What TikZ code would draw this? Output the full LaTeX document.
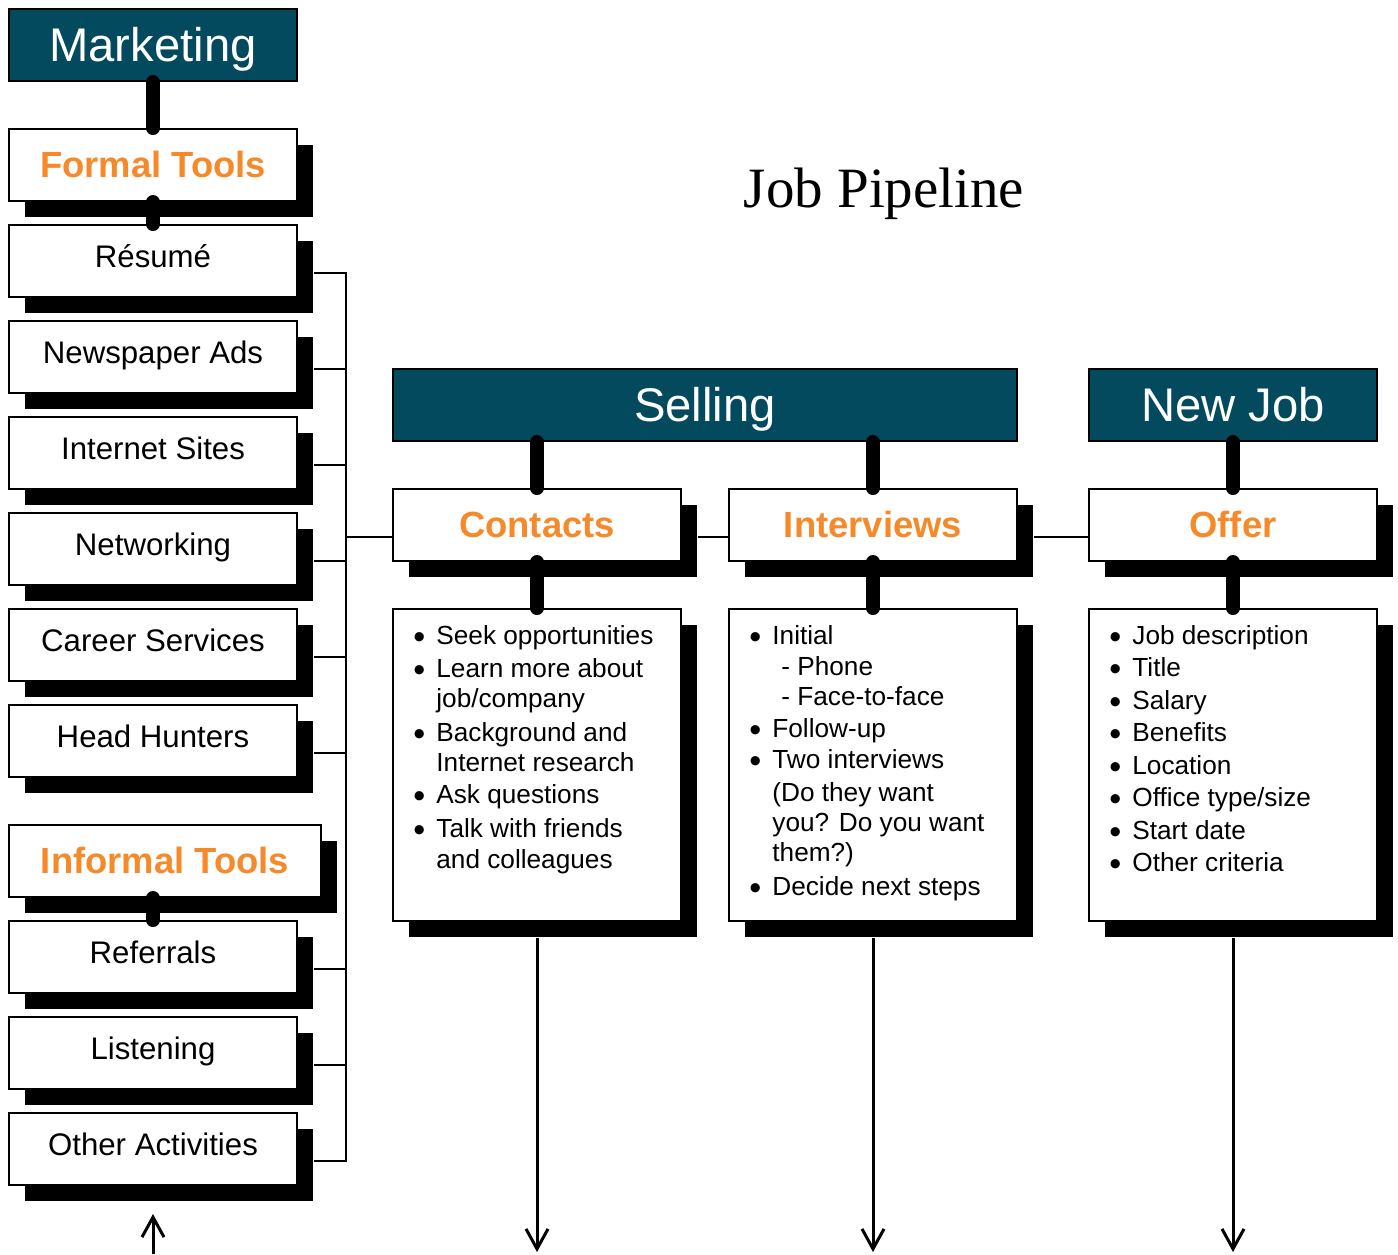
\documentclass[tikz,border=0pt]{standalone}
\usepackage{fontspec}
\setmainfont{Liberation Sans}
\newfontfamily\titlefont{Liberation Serif}
\usetikzlibrary{positioning,arrows.meta,shadows}
\definecolor{deepteal}{HTML}{034A5E}
\definecolor{tangerine}{HTML}{F68A2A}
\newcommand{\bul}{\makebox[10pt][l]{\hspace*{-1.5pt}\raisebox{-0.14em}{\scalebox{1.3}{\textbullet}}}}
\newcommand{\cont}{\hspace*{10pt}}

\tikzset{
  box/.style={draw=black,line width=1pt,fill=white,minimum width=144pt,minimum height=36pt,inner sep=0pt},
  shadowed/.style={drop shadow={shadow xshift=8pt,shadow yshift=-8pt,fill=black,opacity=1}},
  headbox/.style={box,fill=deepteal,text=white,font=\fontsize{23.6}{28}\selectfont,text height=21pt,text depth=5pt},
  stagebox/.style={box,shadowed,text=tangerine,font=\fontsize{18.2}{22}\selectfont\bfseries,text height=16pt,text depth=4pt},
  toolbox/.style={box,shadowed,font=\fontsize{15.6}{19}\selectfont,text height=9.7pt,text depth=3.7pt},
  listbox/.style={box,shadowed,minimum height=156pt},
  listtext/.style={anchor=north west,inner sep=0pt,align=left,font=\fontsize{13.1}{15}\selectfont},
  stem/.style={line width=7pt,line cap=round},
  wire/.style={line width=1pt},
  flow/.style={line width=1.5pt,-{Straight Barb[length=10pt,width=11pt]}}
}

\begin{document}
\begin{tikzpicture}[x=0.5pt,y=-0.5pt]
  \useasboundingbox (0,0) rectangle (1398,1254);

  % left column: tools
  \node[headbox] (market) at (153,45) {Marketing};
  \node[stagebox] (formal) at (153,165) {Formal Tools};
  \node[toolbox] (resume) at (153,261) {Résumé};
  \node[toolbox] (news) at (153,357) {Newspaper Ads};
  \node[toolbox] (web) at (153,453) {Internet Sites};
  \node[toolbox] (network) at (153,549) {Networking};
  \node[toolbox] (career) at (153,645) {Career Services};
  \node[toolbox] (hunters) at (153,741) {Head Hunters};
  \node[stagebox,minimum width=156pt] (informal) at (165,861) {Informal Tools};
  \node[toolbox] (referral) at (153,957) {Referrals};
  \node[toolbox] (listen) at (153,1053) {Listening};
  \node[toolbox] (other) at (153,1149) {Other Activities};

  \node[font=\titlefont\fontsize{28.5}{32}\selectfont,anchor=base] (title) at (884,207) {Job Pipeline};

  % selling and new job
  \node[headbox,minimum width=312pt] (selling) at (705,405) {Selling};
  \node[headbox] (newjob) at (1233,405) {New Job};
  \node[stagebox] (contacts) at (537,525) {Contacts};
  \node[stagebox] (interviews) at (873,525) {Interviews};
  \node[stagebox] (offer) at (1233,525) {Offer};
  \node[listbox] (clist) at (537,765) {};
  \node[listbox] (ilist) at (873,765) {};
  \node[listbox] (olist) at (1233,765) {};

  \node[listtext] (ctext) at ([shift={(12pt,-8.5pt)}]clist.north west) {%
    \bul Seek opportunities\\[1.5pt]
    \bul Learn more about\\
    \cont job/company\\[2pt]
    \bul Background and\\
    \cont Internet research\\[1pt]
    \bul Ask questions\\[2pt]
    \bul Talk with friends\\[0.5pt]
    \cont and colleagues};
  \node[listtext] (itext) at ([shift={(12pt,-8.5pt)}]ilist.north west) {%
    \bul Initial\\[0.5pt]
    \cont\hspace*{4.5pt}- Phone\\
    \cont\hspace*{4.5pt}- Face-to-face\\[1pt]
    \bul Follow-up\\[0.5pt]
    \bul Two interviews\\[1.5pt]
    \cont (Do they want\\
    \cont you? Do you want\\
    \cont them?)\\[2pt]
    \bul Decide next steps};
  \node[listtext,font=\fontsize{13.1}{16.25}\selectfont] (otext) at ([shift={(12pt,-8.5pt)}]olist.north west) {%
    \bul Job description\\
    \bul Title\\
    \bul Salary\\
    \bul Benefits\\
    \bul Location\\
    \bul Office type/size\\
    \bul Start date\\
    \bul Other criteria};

  % thin rail joining the tools to contacts
  \coordinate (spine) at ([xshift=24pt]resume.east);
  \draw[wire] ([shift={(8pt,-6pt)}]resume.east) -| ([shift={(24pt,-6pt)}]other.east) -- ([shift={(8pt,-6pt)}]other.east);
  \foreach \t in {news,web,network,career,hunters,referral,listen}
    \draw[wire] ([shift={(8pt,-6pt)}]\t.east) -- ++(16pt,0);
  \draw[wire] ([yshift=-6pt]contacts.west) -- ([yshift=-6pt]contacts.west -| spine);
  \draw[wire] ([shift={(8pt,-6pt)}]contacts.east) -- ([yshift=-6pt]interviews.west);
  \draw[wire] ([shift={(8pt,-6pt)}]interviews.east) -- ([yshift=-6pt]offer.west);

  % thick stems
  \draw[stem] (market) -- (formal);
  \draw[stem] (formal) -- (resume);
  \draw[stem] (informal.south -| referral.north) -- (referral.north);
  \draw[stem] (selling.south -| contacts.north) -- (contacts.north);
  \draw[stem] (selling.south -| interviews.north) -- (interviews.north);
  \draw[stem] (newjob) -- (offer);
  \draw[stem] (contacts) -- (clist);
  \draw[stem] (interviews) -- (ilist);
  \draw[stem] (offer) -- (olist);

  % arrows in and out
  \coordinate (entry) at (153,1254);
  \coordinate (cout) at (537,1252);
  \coordinate (iout) at (873,1252);
  \coordinate (oout) at (1233,1252);
  \draw[flow] (entry) -- ([yshift=-14pt]other.south);
  \draw[flow] ([yshift=-8pt]clist.south) -- (cout);
  \draw[flow] ([yshift=-8pt]ilist.south) -- (iout);
  \draw[flow] ([yshift=-8pt]olist.south) -- (oout);
\end{tikzpicture}
\end{document}
